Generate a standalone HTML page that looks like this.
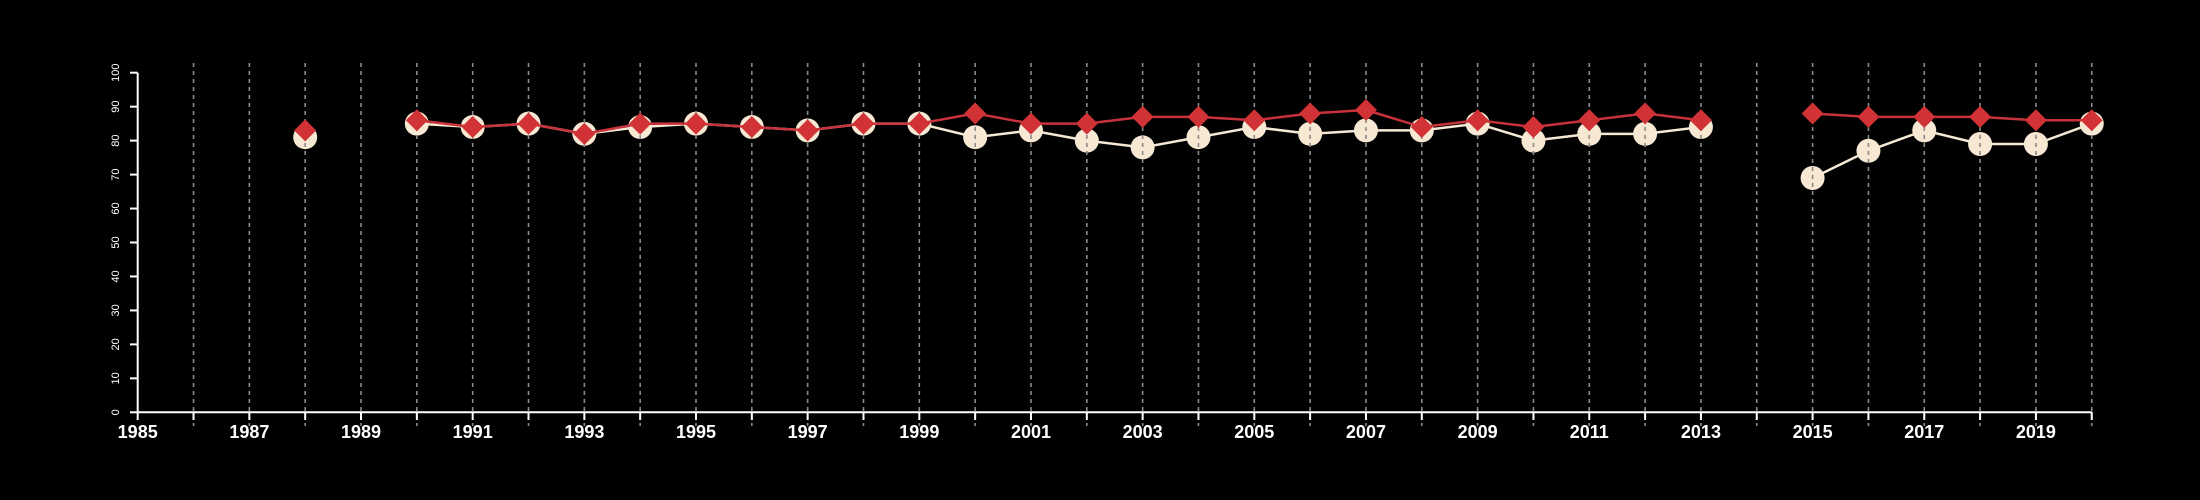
<!DOCTYPE html>
<html><head><meta charset="utf-8"><style>
html,body{margin:0;padding:0;background:#000;}
svg{display:block;font-family:"Liberation Sans",sans-serif;}
</style></head><body>
<svg id="chart" width="2200" height="500" xmlns="http://www.w3.org/2000/svg"></svg>
<script>
const years = [1988,1990,1991,1992,1993,1994,1995,1996,1997,1998,1999,2000,2001,2002,2003,2004,2005,2006,2007,2008,2009,2010,2011,2012,2013,2015,2016,2017,2018,2019,2020];
const seriesA = [81,85,84,85,82,84,85,84,83,85,85,81,83,80,78,81,84,82,83,83,85,80,82,82,84,69,77,83,79,79,85];
const seriesB = [83,86,84,85,82,85,85,84,83,85,85,88,85,85,87,87,86,88,89,84,86,84,86,88,86,88,87,87,87,86,86];
const yTicks = [0,10,20,30,40,50,60,70,80,90,100];
const xStart = 1985, xEnd = 2020;

const NS = "http://www.w3.org/2000/svg";
const svg = document.getElementById('chart');
const X = y => 137.7 + (y - 1985) * 55.83;
const Y = v => 412.3 - v * 3.396;
function mk(tag, attrs, parent) {
  const e = document.createElementNS(NS, tag);
  for (const k in attrs) e.setAttribute(k, attrs[k]);
  (parent || svg).appendChild(e);
  return e;
}
// segments split on gaps
function segments(vals) {
  const segs = []; let cur = [];
  for (let i = 0; i < years.length; i++) {
    if (i > 0 && years[i] - years[i-1] > 1) { segs.push(cur); cur = []; }
    cur.push([X(years[i]), Y(vals[i])]);
  }
  segs.push(cur);
  return segs.filter(s => s.length > 1);
}
// white line
for (const s of segments(seriesA)) {
  const p = mk('polyline', {points: s.map(q => q.join(',')).join(' '), fill: 'none', stroke: '#f5e9d6', 'stroke-width': 2.5});
  
  
}
// circles
for (let i = 0; i < years.length; i++) {
  const c = mk('circle', {cx: X(years[i]), cy: Y(seriesA[i]), r: 12, fill: '#f7e8d3'});
  
  
}
// gridlines
for (let y = xStart + 1; y <= xEnd; y++) {
  const g = mk('line', {x1: X(y), x2: X(y), y1: 63, y2: 426, stroke: '#8a8a8a', 'stroke-width': 1.6, 'stroke-dasharray': '4,4'});
  
  
}
// red line
for (const s of segments(seriesB)) {
  const p = mk('polyline', {points: s.map(q => q.join(',')).join(' '), fill: 'none', stroke: '#c8323a', 'stroke-width': 2.5});
  
  
}
// diamonds
for (let i = 0; i < years.length; i++) {
  const cx = X(years[i]), cy = Y(seriesB[i]), d = 11;
  const p = mk('polygon', {points: `${cx},${cy-d} ${cx+d},${cy} ${cx},${cy+d} ${cx-d},${cy}`, fill: '#d03236'});
  
  
}
// axes
const xa = mk('line', {x1: X(xStart), x2: X(xEnd), y1: 412.3, y2: 412.3, stroke: '#fff', 'stroke-width': 2});


const ya = mk('line', {x1: 137.7, x2: 137.7, y1: Y(0), y2: Y(100), stroke: '#fff', 'stroke-width': 2});


for (let y = xStart; y <= xEnd; y++) {
  const t = mk('line', {x1: X(y), x2: X(y), y1: 412, y2: 420, stroke: '#fff', 'stroke-width': 2});
  
  
  if ((y - xStart) % 2 === 0) {
    const tx = mk('text', {x: X(y), y: 438, fill: '#fff', 'font-size': 18, 'font-weight': 'bold', 'text-anchor': 'middle'});
    tx.textContent = y;
    
    
  }
}
for (const v of yTicks) {
  const t = mk('line', {x1: 130, x2: 137.7, y1: Y(v), y2: Y(v), stroke: '#fff', 'stroke-width': 2});
  
  
  const tx = mk('text', {x: 0, y: 0, fill: '#fff', 'font-size': 11, 'text-anchor': 'middle', transform: `translate(119,${Y(v)}) rotate(-90)`});
  tx.textContent = v;
  
  
}
</script>
</body></html>
